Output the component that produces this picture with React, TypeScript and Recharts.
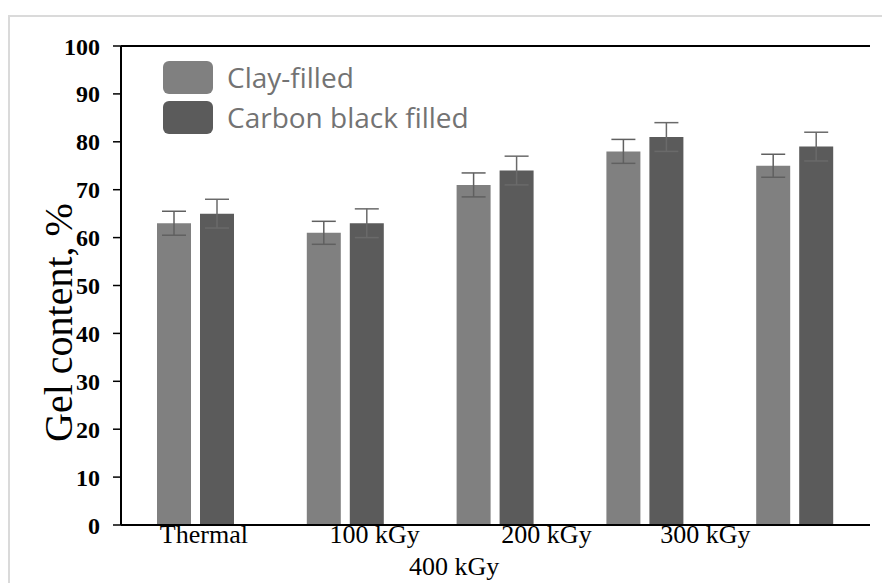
import { Bar, BarChart, ErrorBar, Legend, ReferenceLine, XAxis, YAxis } from "recharts";

const categories = ["Thermal", "100 kGy", "200 kGy", "300 kGy", "400 kGy"];
const clayFilled = [63, 61, 71, 78, 75];
const clayErr = [2.5, 2.4, 2.5, 2.5, 2.4];
const carbonFilled = [65, 63, 74, 81, 79];
const carbonErr = [3, 3, 3, 3, 3];
const yTicks = [0, 10, 20, 30, 40, 50, 60, 70, 80, 90, 100];
const seriesNames = ["Clay-filled", "Carbon black filled"];

const data = categories.map((cat, i) => ({
  cat,
  clay: clayFilled[i],
  clayErr: clayErr[i],
  carbon: carbonFilled[i],
  carbonErr: carbonErr[i],
}));

// the tick labels in the original sit off their bars (last one wraps to a 2nd row)
const TICK_SHIFT = [8, 29, 51, 60, -341];
const TICK_ROW = [0, 0, 0, 0, 1];

const SERIF = '"Liberation Serif", "Times New Roman", serif';
const SANS = '"Open Sans", "Noto Sans", sans-serif';

function XTick(props: any) {
  const { x, y, payload, index } = props;
  return (
    <text
      x={x + TICK_SHIFT[index]}
      y={y + (TICK_ROW[index] ? 50 : 18)}
      textAnchor="middle"
      fontFamily={SERIF}
      fontSize={26}
      fill="#000"
    >
      {payload.value}
    </text>
  );
}

function YTitle(props: any) {
  const vb = props.viewBox;
  const cx = vb.x + 72;
  const cy = vb.y + vb.height / 2 + 37;
  return (
    <text
      x={cx}
      y={cy}
      transform={`rotate(-90, ${cx}, ${cy})`}
      textAnchor="middle"
      fontFamily={SERIF}
      fontSize={40}
      fill="#000"
    >
      Gel content, %
    </text>
  );
}

function renderLegend(props: any) {
  const items = [...props.payload].sort(
    (a: any, b: any) => seriesNames.indexOf(a.value) - seriesNames.indexOf(b.value),
  );
  return (
    <div style={{ display: "flex", flexDirection: "column", gap: 7 }}>
      {items.map((entry: any) => (
        <div key={entry.value} style={{ display: "flex", alignItems: "center" }}>
          <div
            style={{
              width: 50,
              height: 33,
              borderRadius: 6,
              background: entry.color,
              marginRight: 14,
            }}
          />
          <span
            style={{
              fontFamily: SANS,
              fontSize: 28,
              color: "#737373",
              lineHeight: "33px",
              whiteSpace: "nowrap",
            }}
          >
            {entry.value}
          </span>
        </div>
      ))}
    </div>
  );
}

export default function App() {
  return (
    <div
      style={{
        position: "absolute",
        left: 0,
        top: 0,
        width: 882,
        height: 583,
        overflow: "hidden",
        background: "#fff",
      }}
    >
      <div
        style={{
          position: "absolute",
          left: 8,
          top: 15,
          width: 900,
          height: 600,
          borderLeft: "2px solid #dadada",
          borderTop: "2px solid #dadada",
        }}
      />
      <div style={{ position: "absolute", left: 0, top: 0 }}>
        <BarChart
          width={882}
          height={583}
          data={data}
          margin={{ top: 46, right: 12, bottom: 0, left: 0 }}
          barSize={34}
          barGap={9}
        >
          <XAxis
            dataKey="cat"
            height={58}
            interval={0}
            tickLine={false}
            tickSize={0}
            tickMargin={0}
            axisLine={{ stroke: "#000", strokeWidth: 2 }}
            tick={<XTick />}
          />
          <YAxis
            width={121}
            domain={[0, 100]}
            ticks={yTicks}
            interval={0}
            tickSize={8}
            tickMargin={13}
            tickLine={{ stroke: "#000", strokeWidth: 1.5 }}
            axisLine={{ stroke: "#000", strokeWidth: 2 }}
            tick={{
              fill: "#000",
              fontFamily: SERIF,
              fontSize: 24,
              fontWeight: "bold",
            }}
            label={<YTitle />}
          />
          <YAxis
            yAxisId="right"
            orientation="right"
            type="number"
            domain={[0, 100]}
            width={0}
            tick={false}
            tickLine={false}
            axisLine={{ stroke: "#000", strokeWidth: 2 }}
          />
          <ReferenceLine y={100} stroke="#000" strokeWidth={2} ifOverflow="visible" />
          <Legend
            layout="horizontal"
            verticalAlign="middle"
            align="center"
            content={renderLegend}
            wrapperStyle={{ position: "absolute", left: 163, top: 61, width: "auto" }}
          />
          <Bar dataKey="clay" name="Clay-filled" fill="#808080" isAnimationActive={false}>
            <ErrorBar dataKey="clayErr" width={12} stroke="#606060" strokeWidth={1.5} />
          </Bar>
          <Bar
            dataKey="carbon"
            name="Carbon black filled"
            fill="#5b5b5b"
            isAnimationActive={false}
          >
            <ErrorBar dataKey="carbonErr" width={12} stroke="#6a6a6a" strokeWidth={1.5} />
          </Bar>
        </BarChart>
      </div>
    </div>
  );
}
